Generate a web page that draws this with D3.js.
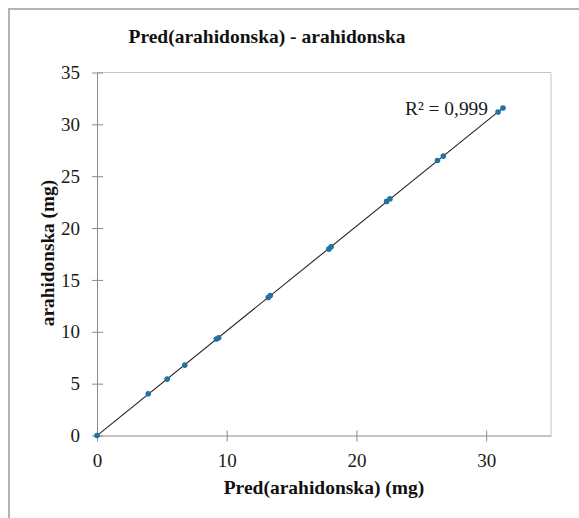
<!DOCTYPE html>
<html><head><meta charset="utf-8">
<script src="https://cdn.jsdelivr.net/npm/d3@7"></script>
<style>body{margin:0;background:#fff}svg{display:block}</style>
</head><body>
<script>
const predX = [0, 3.95, 5.41, 6.77, 9.2, 9.38, 13.2, 13.36, 17.87, 18.05, 22.33, 22.59, 26.25, 26.7, 30.92, 31.3];
const actualY = [0, 4.02, 5.44, 6.79, 9.3, 9.43, 13.3, 13.5, 17.97, 18.2, 22.57, 22.83, 26.52, 26.94, 31.19, 31.57];
const xTicks = [0, 10, 20, 30];
const yTicks = [0, 5, 10, 15, 20, 25, 30, 35];
const titleText = "Pred(arahidonska) - arahidonska";
const xLabel = "Pred(arahidonska) (mg)";
const yLabel = "arahidonska (mg)";
const r2Text = "R² = 0,999";

const W = 579, H = 518;
const svg = d3.select("body").append("svg").attr("width", W).attr("height", H);
const serif = "'Liberation Serif','Times New Roman',serif";

// outer frame
svg.append("rect").attr("x", 9).attr("y", 9).attr("width", 600).attr("height", 600)
  .attr("fill", "none").attr("stroke", "#b3b3b3").attr("stroke-width", 2);

const x = d3.scaleLinear().domain([0, 35]).range([97, 551]);
const y = d3.scaleLinear().domain([0, 35]).range([435.5, 72.5]);

// plot border (top/right)
svg.append("path")
  .attr("d", `M${x(0)},${y(35)}H${x(35)}V${y(0)}`)
  .attr("fill", "none").attr("stroke", "#c4c4c4").attr("stroke-width", 1);

const axisColor = "#8a8a8a";
const gx = svg.append("g").attr("transform", `translate(0,${y(0)})`)
  .call(d3.axisBottom(x).tickValues(xTicks).tickSize(0).tickPadding(18).tickFormat(d3.format("d")));
const gy = svg.append("g").attr("transform", `translate(${x(0)},0)`)
  .call(d3.axisLeft(y).tickValues(yTicks).tickSize(0).tickPadding(17).tickFormat(d3.format("d")));
[gx, gy].forEach(g => {
  g.select(".domain").attr("stroke", axisColor);
  g.selectAll("text").attr("font-family", serif).attr("font-size", 19).attr("fill", "#1a1a1a");
});
// crossing tick marks
gx.selectAll(".tick").append("line").attr("y1", -5).attr("y2", 6).attr("stroke", axisColor);
gy.selectAll(".tick").append("line").attr("x1", -5).attr("x2", 6).attr("stroke", axisColor);
gx.selectAll(".tick text").attr("dy", "0.71em");

// trendline via least squares
const mx = d3.mean(predX), my = d3.mean(actualY);
const slope = d3.sum(predX.map((v, i) => (v - mx) * (actualY[i] - my))) / d3.sum(predX.map(v => (v - mx) ** 2));
const icpt = my - slope * mx;
const xr = d3.extent(predX);
svg.append("line")
  .attr("x1", x(xr[0])).attr("y1", y(icpt + slope * xr[0]))
  .attr("x2", x(xr[1])).attr("y2", y(icpt + slope * xr[1]))
  .attr("stroke", "#222").attr("stroke-width", 1.1);

// points
svg.append("g").selectAll("circle").data(predX).join("circle")
  .attr("cx", d => x(d)).attr("cy", (d, i) => y(actualY[i]))
  .attr("r", 2.8).attr("fill", "#24729f");

// R2 label
svg.append("text").attr("x", 488).attr("y", 115).attr("text-anchor", "end")
  .attr("font-family", serif).attr("font-size", 19.4).attr("fill", "#1a1a1a").text(r2Text);

// titles
svg.append("text").attr("x", 267).attr("y", 43).attr("text-anchor", "middle")
  .attr("font-family", serif).attr("font-weight", "bold").attr("font-size", 19.5).attr("fill", "#111").text(titleText);
svg.append("text").attr("x", 324).attr("y", 494).attr("text-anchor", "middle")
  .attr("font-family", serif).attr("font-weight", "bold").attr("font-size", 19.5).attr("fill", "#111").text(xLabel);
svg.append("text").attr("transform", `translate(54,253) rotate(-90)`).attr("text-anchor", "middle")
  .attr("font-family", serif).attr("font-weight", "bold").attr("font-size", 19.3).attr("fill", "#111").text(yLabel);
</script>
</body></html>
